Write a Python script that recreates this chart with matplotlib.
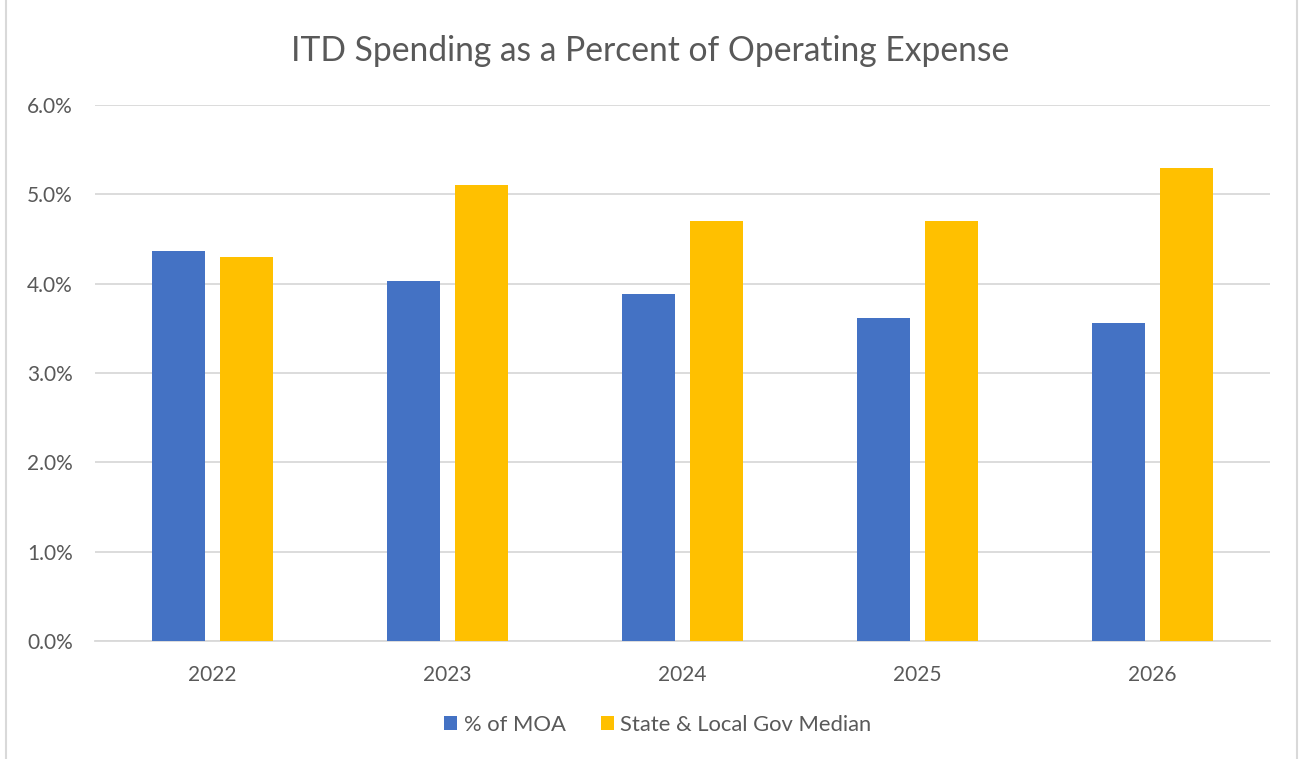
import matplotlib
matplotlib.use("Agg")
import matplotlib.pyplot as plt
import numpy as np
from matplotlib.ticker import FuncFormatter
from matplotlib.patches import Rectangle

years = ["2022", "2023", "2024", "2025", "2026"]
moa = [4.37, 4.03, 3.885, 3.62, 3.565]
gov_median = [4.30, 5.10, 4.70, 4.70, 5.30]
series_names = ["% of MOA", "State & Local Gov Median"]
title = "ITD Spending as a Percent of Operating Expense"

blue = "#4472C4"
gold = "#FFC000"
txt = "#595959"
grid = "#D9D9D9"

plt.rcParams['font.family'] = ['Lato', 'DejaVu Sans']

fig = plt.figure(figsize=(13, 7.59), dpi=100)
ax = fig.add_axes([95/1300, 1-641/759, (1270-95)/1300, (641-105)/759])

x = np.arange(len(years))
w = 0.2255
off = 0.1426
ax.bar(x - off, moa, w, color=blue, label=series_names[0], zorder=3)
ax.bar(x + off, gov_median, w, color=gold, label=series_names[1], zorder=3)

ax.set_xlim(-0.5, len(years) - 0.5)
ax.set_ylim(0, 6)
ax.set_yticks(np.arange(0, 6.01, 1))
ax.yaxis.set_major_formatter(FuncFormatter(lambda v, p: f"{v:.1f}%"))
ax.set_xticks(x)
ax.set_xticklabels(years)
ax.grid(axis='y', color=grid, linewidth=1.3, zorder=0)
for s in ['top', 'right', 'left']:
    ax.spines[s].set_visible(False)
ax.spines['bottom'].set_color(grid)
ax.spines['bottom'].set_linewidth(1.3)
ax.tick_params(axis='both', length=0, colors=txt, labelsize=15)
ax.tick_params(axis='y', pad=16)
ax.tick_params(axis='x', pad=17)

fig.text(0.5, 1-51/759, title, ha='center', va='center', fontsize=24.2, color=txt)

leg = fig.legend(loc='center', bbox_to_anchor=(0.506, 1-725/759), ncol=2, frameon=False,
                 fontsize=15.8, handlelength=0.6, handleheight=0.6, handletextpad=0.3,
                 columnspacing=1.6)
for t in leg.get_texts():
    t.set_color(txt)

fig.patches.append(Rectangle((6/1300, -0.01), 1291/1300, 1.02, transform=fig.transFigure,
                             fill=False, edgecolor=grid, linewidth=1.5))

fig.savefig("out.png", dpi=100, facecolor='white')
